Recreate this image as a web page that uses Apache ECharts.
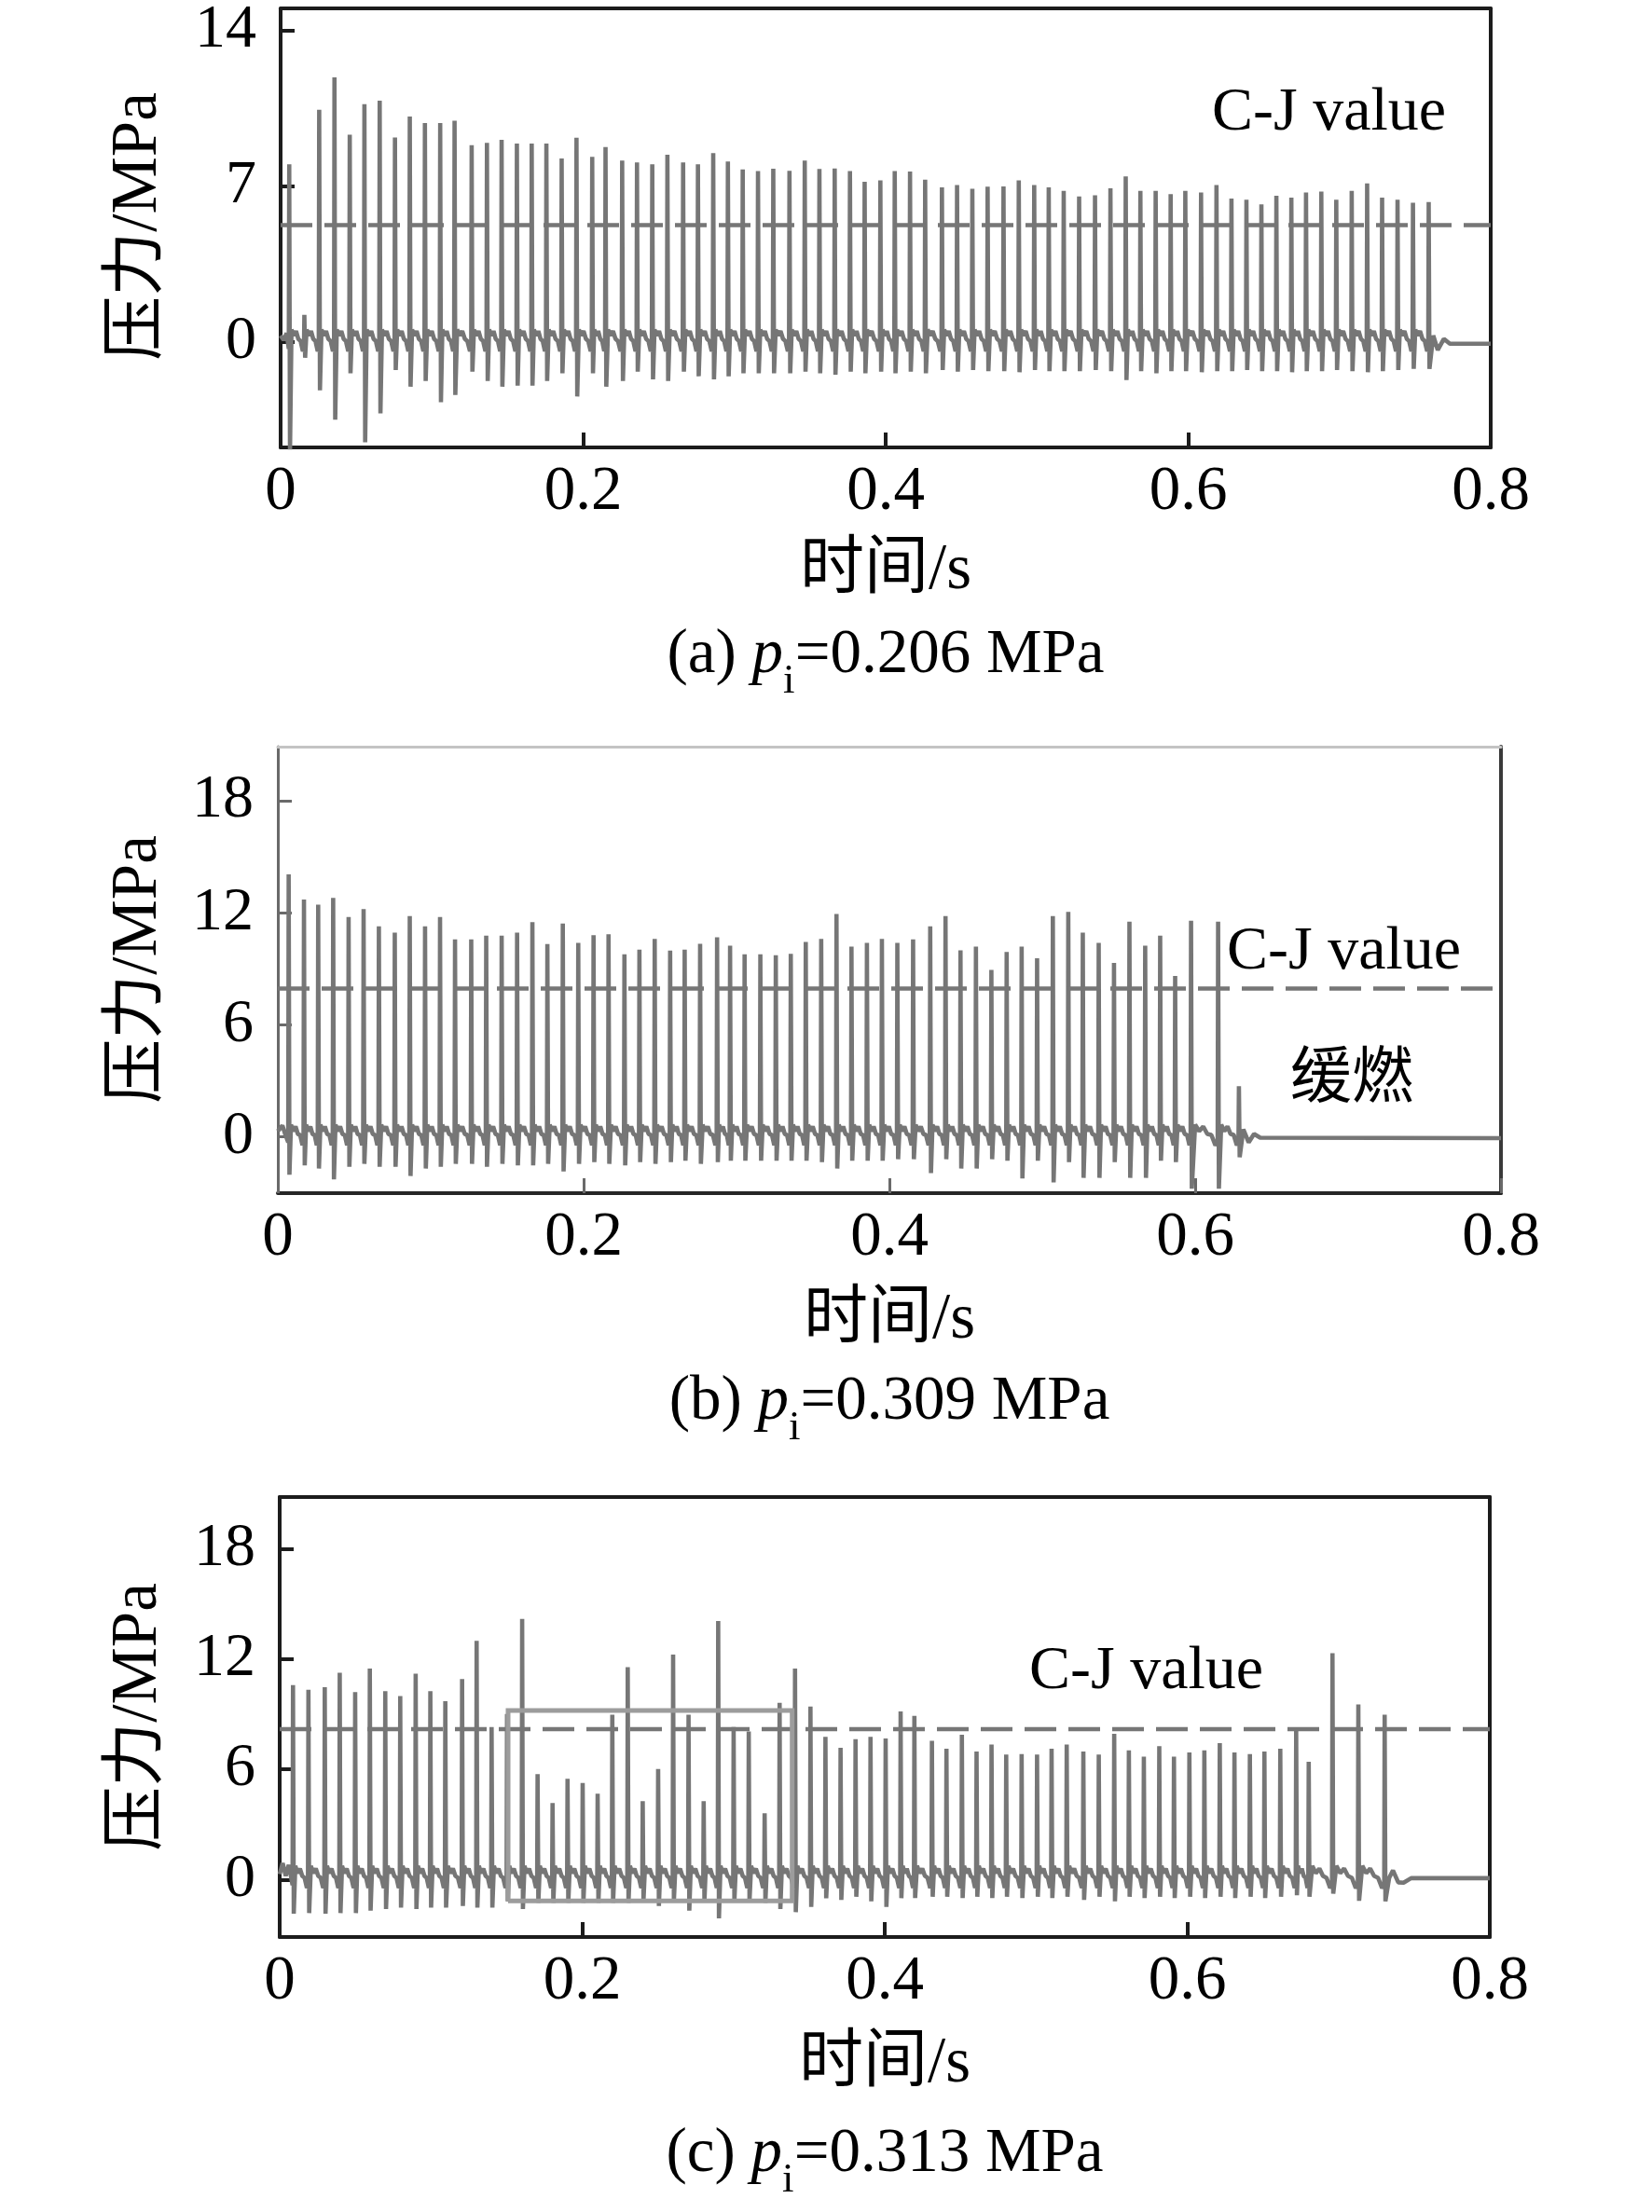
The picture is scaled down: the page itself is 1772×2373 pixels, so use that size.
<!DOCTYPE html>
<html>
<head>
<meta charset="utf-8">
<script src="https://cdn.jsdelivr.net/npm/echarts@6/dist/echarts.min.js"></script>
<style>
  html, body { margin: 0; padding: 0; background: #fff; }
  #chart { width: 1772px; height: 2373px; }
</style>
</head>
<body>
<div id="chart"></div>
<script>
// ---- (a) p_i = 0.206 MPa ----
const timeA = [0.0057, 0.0157, 0.0255, 0.0356, 0.0457, 0.0554, 0.0655, 0.0756, 0.0854, 0.0954,
  0.1055, 0.115, 0.1263, 0.1364, 0.1461, 0.1562, 0.166, 0.1757, 0.1858, 0.1956,
  0.206, 0.2148, 0.2258, 0.2356, 0.2457, 0.2557, 0.2661, 0.2759, 0.286, 0.2957,
  0.3055, 0.3156, 0.3257, 0.3364, 0.3465, 0.3562, 0.3663, 0.3764, 0.3861, 0.3965,
  0.406, 0.4161, 0.4261, 0.4372, 0.4472, 0.4573, 0.4674, 0.4779, 0.488, 0.4982,
  0.5078, 0.5177, 0.5279, 0.5384, 0.5486, 0.5587, 0.5684, 0.5785, 0.5884, 0.5981,
  0.6085, 0.6187, 0.6286, 0.6385, 0.6484, 0.6583, 0.6682, 0.6779, 0.688, 0.6979,
  0.7081, 0.7183, 0.7282, 0.7384, 0.7486, 0.759]
const peakA = [8.0, 1.23, 10.45, 11.9, 9.33, 10.7, 10.86, 9.2, 10.15, 9.85,
  9.85, 9.96, 8.86, 8.96, 9.1, 8.93, 8.93, 8.93, 8.26, 9.19,
  8.33, 8.77, 8.16, 8.08, 8.0, 8.43, 8.08, 8.0, 8.5, 8.12,
  7.77, 7.69, 7.8, 7.7, 8.16, 7.79, 7.81, 7.69, 7.21, 7.27,
  7.69, 7.67, 7.31, 6.96, 7.07, 6.9, 6.99, 7.0, 7.27, 7.07,
  6.96, 6.8, 6.55, 6.6, 6.92, 7.45, 6.8, 6.8, 6.66, 6.8,
  6.73, 7.07, 6.46, 6.41, 6.2, 6.58, 6.5, 6.73, 6.77, 6.41,
  6.8, 7.14, 6.5, 6.41, 6.27, 6.3]
const dipA = [-5.0, -0.7, -2.16, -3.48, -1.4, -4.5, -3.2, -1.25, -2.0, -1.74,
  -2.7, -2.37, -1.32, -1.74, -2.0, -1.95, -1.95, -1.74, -1.4, -2.44,
  -1.4, -2.0, -1.74, -1.32, -1.67, -1.74, -1.32, -1.53, -1.67, -1.53,
  -1.4, -1.4, -1.4, -1.4, -1.32, -1.4, -1.46, -1.32, -1.4, -1.32,
  -1.4, -1.32, -1.4, -1.25, -1.32, -1.25, -1.3, -1.3, -1.35, -1.25,
  -1.3, -1.3, -1.3, -1.25, -1.3, -1.7, -1.3, -1.4, -1.3, -1.3,
  -1.35, -1.3, -1.3, -1.25, -1.3, -1.3, -1.35, -1.3, -1.3, -1.25,
  -1.3, -1.35, -1.3, -1.25, -1.2, -1.2]
const rippleA = [[0.15, 0.57], [0.3, 0.3], [0.45, 0.5], [0.6, 0.15], [0.75, 0.05], [0.9, -0.4]]
const headA = [[0, 0.3], [0.002, 0.1], [0.004, 0.4]]
const tailA = [[0.762, 0.3], [0.765, -0.35], [0.769, 0.15], [0.773, -0.07], [0.8, -0.07]]
const cjA = 5.26

// ---- (b) p_i = 0.309 MPa ----
const timeB = [0.0071, 0.0171, 0.0264, 0.0362, 0.0463, 0.0561, 0.0661, 0.0765, 0.0863, 0.0963,
  0.1061, 0.1159, 0.1265, 0.1363, 0.1464, 0.1565, 0.1665, 0.1763, 0.1864, 0.1965,
  0.2065, 0.2163, 0.2267, 0.2365, 0.2465, 0.2566, 0.2661, 0.2762, 0.2873, 0.2958,
  0.3053, 0.3156, 0.3257, 0.3355, 0.3453, 0.3554, 0.3654, 0.3752, 0.3853, 0.3951,
  0.4052, 0.4155, 0.4267, 0.4367, 0.4465, 0.4566, 0.4667, 0.4767, 0.4865, 0.4966,
  0.5069, 0.517, 0.5265, 0.5369, 0.5469, 0.557, 0.5673, 0.5771, 0.5869, 0.5973,
  0.615, 0.6286]
const peakB = [14.06, 12.71, 12.43, 12.8, 11.77, 12.2, 11.27, 10.94, 11.82, 11.27,
  11.77, 10.57, 10.57, 10.77, 10.77, 10.94, 11.5, 10.32, 11.43, 10.39,
  10.8, 10.85, 9.77, 10.02, 10.6, 9.97, 10.02, 10.34, 10.69, 10.24,
  9.77, 9.77, 9.72, 9.8, 10.44, 10.6, 11.93, 10.19, 10.39, 10.6,
  10.39, 10.57, 11.27, 11.82, 9.99, 10.19, 8.94, 9.9, 10.19, 9.57,
  11.82, 12.05, 10.94, 10.39, 9.32, 11.52, 10.24, 10.77, 8.61, 11.57,
  11.52, 2.71]
const dipB = [-2.03, -1.53, -1.7, -2.28, -1.61, -1.45, -1.61, -1.61, -2.1, -1.7,
  -1.61, -1.45, -1.45, -1.61, -1.45, -1.53, -1.53, -1.45, -1.86, -1.45,
  -1.36, -1.45, -1.53, -1.36, -1.45, -1.36, -1.28, -1.45, -1.36, -1.28,
  -1.28, -1.28, -1.28, -1.28, -1.28, -1.36, -1.7, -1.28, -1.28, -1.28,
  -1.2, -1.2, -1.94, -1.2, -1.7, -1.7, -1.2, -1.28, -2.23, -1.28,
  -2.44, -1.36, -2.2, -2.2, -1.36, -2.2, -2.2, -1.28, -1.36, -2.78,
  -2.78, -1.1]
const rippleB = [[0.15, 0.65], [0.3, 0.3], [0.45, 0.55], [0.6, 0.15], [0.75, 0.1], [0.9, -0.45]]
const headB = [[0, 0.3], [0.003, 0.6], [0.005, 0.1]]
const tailB = [[0.6315, 0.4], [0.635, -0.3], [0.6385, 0.15], [0.6425, -0.05], [0.8, -0.07]]
const cjB = 7.94

// ---- (c) p_i = 0.313 MPa ----
const timeC = [0.0088, 0.019, 0.0298, 0.0397, 0.0499, 0.0596, 0.0698, 0.0797, 0.0899, 0.0996,
  0.1095, 0.1206, 0.1302, 0.1401, 0.1503, 0.1603, 0.1705, 0.1804, 0.1903, 0.2003,
  0.2102, 0.2199, 0.2301, 0.24, 0.2502, 0.2601, 0.2703, 0.2803, 0.2899, 0.3001,
  0.3101, 0.3206, 0.3305, 0.3407, 0.3509, 0.3608, 0.3708, 0.3807, 0.3906, 0.4006,
  0.4105, 0.4196, 0.4312, 0.4408, 0.451, 0.4607, 0.4706, 0.4803, 0.4905, 0.5007,
  0.5103, 0.5203, 0.5313, 0.5415, 0.5517, 0.5614, 0.5713, 0.5815, 0.5912, 0.6014,
  0.6113, 0.6215, 0.6312, 0.6414, 0.651, 0.6615, 0.672, 0.6803, 0.696, 0.7131,
  0.7305]
const peakC = [10.57, 10.32, 10.46, 11.25, 10.19, 11.47, 10.24, 9.98, 11.2, 10.24,
  9.7, 10.9, 12.98, 8.3, 9.0, 14.17, 5.73, 4.17, 5.48, 5.26,
  4.67, 8.97, 11.55, 4.27, 6.02, 12.23, 8.97, 4.27, 14.06, 8.3,
  8.06, 3.61, 9.61, 11.47, 9.41, 7.76, 7.17, 7.64, 7.76, 7.67,
  9.14, 8.9, 7.55, 7.12, 7.88, 6.96, 7.34, 6.8, 6.83, 6.8,
  7.12, 7.34, 6.96, 6.8, 7.93, 7.03, 6.69, 7.25, 6.69, 6.91,
  7.03, 7.42, 6.91, 6.83, 6.96, 7.12, 8.18, 6.41, 12.31, 9.53,
  8.97]
const dipC = [-1.85, -1.82, -1.85, -1.82, -1.82, -1.69, -1.6, -1.52, -1.6, -1.52,
  -1.52, -1.43, -1.52, -1.52, -1.18, -1.6, -1.26, -1.26, -1.26, -1.26,
  -1.26, -1.26, -1.26, -1.18, -1.43, -1.18, -1.69, -1.18, -2.1, -1.18,
  -1.18, -1.26, -1.6, -1.77, -1.48, -1.01, -1.1, -0.93, -1.18, -1.48,
  -1.01, -1.0, -0.93, -0.93, -1.0, -0.93, -1.0, -0.93, -1.0, -0.93,
  -1.0, -0.93, -1.1, -0.93, -1.18, -0.93, -1.0, -0.93, -1.0, -0.93,
  -1.0, -0.93, -1.0, -0.93, -1.0, -0.93, -0.85, -0.93, -0.76, -1.15,
  -1.18]
const rippleC = [[0.15, 0.75], [0.3, 0.35], [0.45, 0.6], [0.6, 0.2], [0.75, 0.1], [0.9, -0.45]]
const headC = [[0, 0.3], [0.002, 0.9], [0.004, 0.2], [0.006, 0.8]]
const tailC = [[0.7335, 0.1], [0.736, 0.5], [0.7395, -0.15], [0.743, -0.17], [0.748, 0.08], [0.8, 0.08]]
const cjC = 8.18
// 灰色方框 (time, pressure)
const boxTimeC = [0.151, 0.3388]
const boxPressureC = [-1.15, 9.19]

// axis ticks / texts
const xTicks = [0, 0.2, 0.4, 0.6, 0.8]
const yTicksA = [0, 7, 14]
const yTicksBC = [0, 6, 12, 18]
const captionLetters = ['a', 'b', 'c']
const captionValues = ['0.206', '0.309', '0.313']

// ---- layout ----
const SERIF = '"Liberation Serif", "Times New Roman", "Noto Sans CJK SC", serif'
const LINE = '#767676'
const grids = [
  { left: 301, top: 7, width: 1298, height: 473 },
  { left: 298, top: 801, width: 1312, height: 479 },
  { left: 300, top: 1606, width: 1298, height: 472 }
]
const yRanges = [[-4.73, 15.0], [-3.02, 20.9], [-3.12, 20.8]]
const yTickSets = [yTicksA, yTicksBC, yTicksBC]
const frames = [
  { bottom: '#1c1c1c', left: '#1c1c1c', top: '#1c1c1c', right: '#1c1c1c', width: 4, rightWidth: 4, tick: '#1c1c1c' },
  { bottom: '#262626', left: '#6a6a6a', top: '#c4c4c4', right: '#3a3a3a', width: 3, rightWidth: 4, tick: '#6a6a6a' },
  { bottom: '#1c1c1c', left: '#1c1c1c', top: '#1c1c1c', right: '#1c1c1c', width: 4, rightWidth: 4, tick: '#1c1c1c' }
]

// 每个尖峰: 峰值 -> 负压谷, 之后接读图得到的小振荡
function buildTrace (head, times, peaks, dips, ripple, tail) {
  const pts = head.slice()
  times.forEach((t, i) => {
    pts.push([t - 0.0003, -0.3], [t, peaks[i]], [t + 0.0005, dips[i]])
    const next = times[i + 1]
    if (next === undefined) return
    const gap = next - t
    ripple.forEach(([f, v]) => pts.push([t + f * gap, v]))
  })
  return pts.concat(tail)
}

const traces = [
  buildTrace(headA, timeA, peakA, dipA, rippleA, tailA),
  buildTrace(headB, timeB, peakB, dipB, rippleB, tailB),
  buildTrace(headC, timeC, peakC, dipC, rippleC, tailC)
]
const cjValues = [cjA, cjB, cjC]

const xAxis = []
const yAxis = []
const series = []
grids.forEach((g, i) => {
  const f = frames[i]
  xAxis.push({
    type: 'value', gridIndex: i, min: 0, max: 0.8, position: 'bottom',
    axisLine: { show: true, onZero: false, lineStyle: { color: f.bottom, width: 4 } },
    axisTick: { show: true, inside: true, length: 16, customValues: xTicks, lineStyle: { color: f.tick, width: f.width } },
    axisLabel: { customValues: xTicks, margin: 15, fontSize: 67, fontFamily: SERIF, color: '#000', formatter: v => String(v) },
    splitLine: { show: false }
  })
  xAxis.push({
    type: 'value', gridIndex: i, min: 0, max: 0.8, position: 'top',
    axisLine: { show: true, onZero: false, lineStyle: { color: f.top, width: f.width } },
    axisTick: { show: false }, axisLabel: { show: false }, splitLine: { show: false }
  })
  yAxis.push({
    type: 'value', gridIndex: i, min: yRanges[i][0], max: yRanges[i][1], position: 'left',
    axisLine: { show: true, onZero: false, lineStyle: { color: f.left, width: f.width } },
    axisTick: { show: true, inside: true, length: 15, customValues: yTickSets[i], lineStyle: { color: f.tick, width: f.width } },
    axisLabel: { customValues: yTickSets[i], margin: 26, fontSize: 66, fontFamily: SERIF, color: '#000' },
    splitLine: { show: false }
  })
  yAxis.push({
    type: 'value', gridIndex: i, min: yRanges[i][0], max: yRanges[i][1], position: 'right',
    axisLine: { show: true, onZero: false, lineStyle: { color: f.right, width: f.rightWidth } },
    axisTick: { show: false }, axisLabel: { show: false }, splitLine: { show: false }
  })

  series.push({
    type: 'line', xAxisIndex: 2 * i, yAxisIndex: 2 * i,
    data: traces[i], showSymbol: false, symbol: 'none', z: 2,
    lineStyle: { color: LINE, width: 4.6, join: 'bevel', cap: 'butt' }
  })
  series.push({
    type: 'line', xAxisIndex: 2 * i, yAxisIndex: 2 * i,
    data: [[0, cjValues[i]], [0.8, cjValues[i]]], showSymbol: false, symbol: 'none', z: 3,
    lineStyle: { color: LINE, width: 4.5, type: [34, 13] }
  })
})

// (c) 图中的方框
series.push({
  type: 'line', xAxisIndex: 4, yAxisIndex: 4, showSymbol: false, symbol: 'none', z: 4,
  data: [
    [boxTimeC[0], boxPressureC[0]], [boxTimeC[1], boxPressureC[0]],
    [boxTimeC[1], boxPressureC[1]], [boxTimeC[0], boxPressureC[1]],
    [boxTimeC[0], boxPressureC[0]]
  ],
  lineStyle: { color: '#9c9c9c', width: 5, join: 'miter' }
})

// ---- texts ----
const measureCtx = document.createElement('canvas').getContext('2d')
function textWidth (txt, font) {
  measureCtx.font = font
  return measureCtx.measureText(txt).width
}
const FCAP = '67px ' + SERIF
const FTITLE = '69px ' + SERIF
const F66 = '66px ' + SERIF
const FIT = 'italic 67px ' + SERIF
const FSUB = '45px ' + SERIF

function plainText (txt, x, y, font, align, rotation) {
  return {
    type: 'text', x: x, y: y, rotation: rotation || 0, silent: true,
    style: { text: txt, x: 0, y: 0, font: font, fill: '#000', align: align || 'center', verticalAlign: 'middle' }
  }
}

function caption (letter, value, cx, cy) {
  const parts = [
    { t: '(' + letter + ') ', font: FCAP, dy: 0 },
    { t: 'p', font: FIT, dy: 0 },
    { t: 'i', font: FSUB, dy: 28 },
    { t: '=' + value + ' MPa', font: FCAP, dy: 0 }
  ]
  const widths = parts.map(p => textWidth(p.t, p.font))
  const total = widths.reduce((a, b) => a + b, 0)
  let x = cx - total / 2
  return parts.map((p, k) => {
    const el = plainText(p.t, x, cy + p.dy, p.font, 'left')
    x += widths[k]
    return el
  })
}

const yTitleY = [243, 1040, 1842]
const xTitleY = [613, 1417, 2215]
const captionY = [703, 1504, 2311]
const graphics = []
grids.forEach((g, i) => {
  const cx = g.left + g.width / 2
  graphics.push(plainText('压力/MPa', 149, yTitleY[i], FTITLE, 'center', Math.PI / 2))
  graphics.push(plainText('时间/s', cx, xTitleY[i], FTITLE, 'center'))
  caption(captionLetters[i], captionValues[i], cx, captionY[i]).forEach(e => graphics.push(e))
})
graphics.push(plainText('C-J value', 1300, 122, F66, 'left'))
graphics.push(plainText('C-J value', 1316, 1022, F66, 'left'))
graphics.push(plainText('缓燃', 1450, 1160, '66px ' + SERIF, 'center'))
graphics.push(plainText('C-J value', 1104, 1794, F66, 'left'))

const chart = echarts.init(document.getElementById('chart'), null, { renderer: 'canvas' })
chart.setOption({
  backgroundColor: '#fff',
  animation: false,
  grid: grids.map(g => Object.assign({ containLabel: false }, g)),
  xAxis: xAxis,
  yAxis: yAxis,
  series: series,
  graphic: { elements: graphics }
})
</script>
</body>
</html>
